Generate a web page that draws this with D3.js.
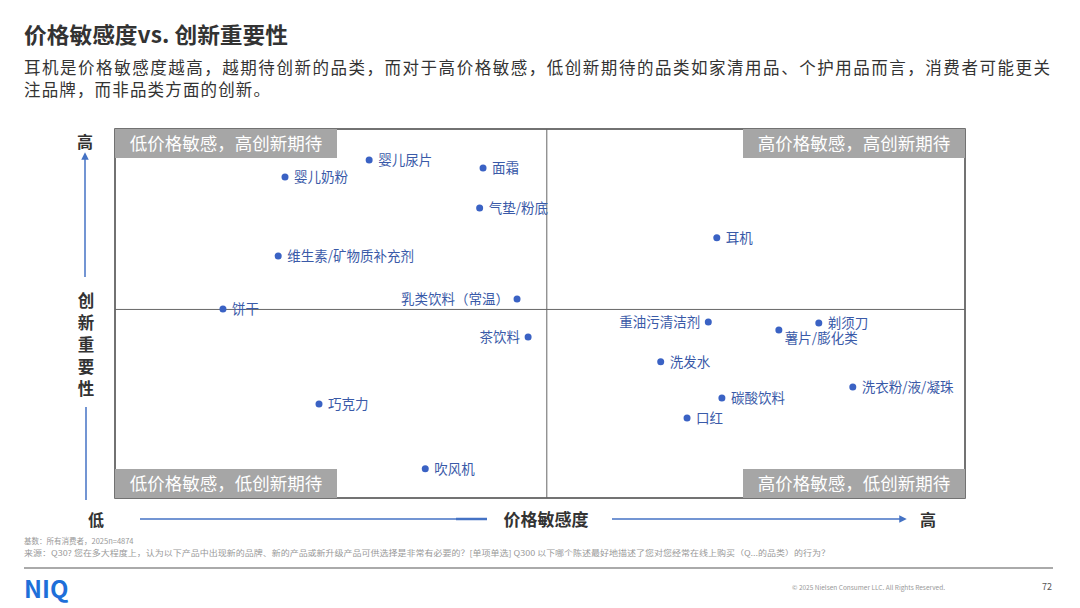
<!DOCTYPE html>
<html>
<head>
<meta charset="utf-8">
<title>价格敏感度vs. 创新重要性</title>
<script src="https://d3js.org/d3.v7.min.js"></script>
<style>
    body {
        margin: 0;
        padding: 0;
        background: #fff;
        font-family: "Noto Sans CJK SC", "Noto Sans", sans-serif;
    }
    #chart text { font-family: "Noto Sans CJK SC", "Noto Sans", sans-serif; }
</style>
</head>
<body>
<svg id="chart" width="1080" height="608"></svg>
<script>
    // categories and their positions (0-100 scale on both axes)
    const categories = ["婴儿尿片", "婴儿奶粉", "面霜", "气垫/粉底", "维生素/矿物质补充剂", "乳类饮料（常温）",
        "饼干", "茶饮料", "巧克力", "吹风机", "耳机", "重油污清洁剂", "剃须刀", "薯片/膨化类",
        "洗发水", "洗衣粉/液/凝珠", "碳酸饮料", "口红"];
    const priceSensitivity = [29.9, 20.0, 43.3, 42.9, 19.2, 47.3, 12.7, 48.6, 24.0, 36.5, 70.8, 69.8, 82.8, 78.1, 64.2, 86.8, 71.4, 67.3];
    const innovationImportance = [91.6, 87.0, 89.4, 78.6, 65.6, 53.9, 51.2, 43.6, 25.5, 7.9, 70.5, 47.7, 47.4, 45.5, 36.9, 30.1, 27.1, 21.7];
    // where the label goes relative to the dot
    const labelSide = ["r", "r", "r", "r", "r", "l", "r", "l", "r", "r", "r", "l", "r", "b", "r", "r", "r", "r"];

    const xDivider = 50.8;
    const yDivider = 51.1;
    const quadrantLabels = ["低价格敏感，高创新期待", "高价格敏感，高创新期待", "低价格敏感，低创新期待", "高价格敏感，低创新期待"];

    const svg = d3.select("#chart");
    const pLeft = 115, pRight = 965, pTop = 129, pBottom = 498;
    const x = d3.scaleLinear().domain([0, 100]).range([pLeft, pRight]);
    const y = d3.scaleLinear().domain([0, 100]).range([pBottom, pTop]);

    const blue = "#3a62c4";
    const axisBlue = "#4472c4";

    // title + subtitle
    svg.append("text").attr("x", 24).attr("y", 43).attr("font-size", 22).attr("font-weight", "bold")
        .attr("fill", "#333").attr("textLength", 264).attr("lengthAdjust", "spacingAndGlyphs")
        .text("价格敏感度vs. 创新重要性");
    svg.append("text").attr("x", 24).attr("y", 74).attr("font-size", 16.5).attr("fill", "#333")
        .attr("textLength", 1026).attr("lengthAdjust", "spacing")
        .text("耳机是价格敏感度越高，越期待创新的品类，而对于高价格敏感，低创新期待的品类如家清用品、个护用品而言，消费者可能更关");
    svg.append("text").attr("x", 24).attr("y", 96).attr("font-size", 16.5).attr("fill", "#333")
        .attr("textLength", 246).attr("lengthAdjust", "spacing")
        .text("注品牌，而非品类方面的创新。");

    // frame and dividers
    svg.append("rect").attr("x", pLeft).attr("y", pTop).attr("width", pRight - pLeft).attr("height", pBottom - pTop)
        .attr("fill", "none").attr("stroke", "#444").attr("stroke-width", 1.5);
    svg.append("line").attr("x1", x(xDivider)).attr("x2", x(xDivider)).attr("y1", pTop).attr("y2", pBottom)
        .attr("stroke", "#666").attr("stroke-width", 1);
    svg.append("line").attr("x1", pLeft).attr("x2", pRight).attr("y1", y(yDivider)).attr("y2", y(yDivider))
        .attr("stroke", "#666").attr("stroke-width", 1);

    // quadrant label boxes
    const boxW = 222, boxH = 29;
    const boxPos = [[pLeft, pTop], [pRight - boxW, pTop], [pLeft, pBottom - boxH], [pRight - boxW, pBottom - boxH]];
    quadrantLabels.forEach((t, i) => {
        const [bx, by] = boxPos[i];
        svg.append("rect").attr("x", bx).attr("y", by).attr("width", boxW).attr("height", boxH).attr("fill", "#a6a6a6");
        svg.append("text").attr("x", bx + boxW / 2).attr("y", by + 21).attr("text-anchor", "middle")
            .attr("font-size", 17.5).attr("fill", "#fff").text(t);
    });

    // points
    const pts = categories.map((c, i) => ({ name: c, x: priceSensitivity[i], y: innovationImportance[i], side: labelSide[i] }));
    const g = svg.append("g");
    g.selectAll("circle").data(pts).enter().append("circle")
        .attr("cx", d => x(d.x)).attr("cy", d => y(d.y)).attr("r", 3.5).attr("fill", blue);
    g.selectAll("text.lbl").data(pts).enter().append("text")
        .attr("class", "lbl")
        .attr("x", d => d.side == "l" ? x(d.x) - 8 : (d.side == "b" ? x(d.x) + 6 : x(d.x) + 9))
        .attr("y", d => d.side == "b" ? y(d.y) + 13 : y(d.y) + 5)
        .attr("text-anchor", d => d.side == "l" ? "end" : "start")
        .attr("font-size", 13.5).attr("fill", "#3a5aa8")
        .text(d => d.name);

    // y axis annotation
    const defs = svg.append("defs");
    defs.append("marker").attr("id", "arr").attr("viewBox", "0 0 10 10").attr("refX", 5).attr("refY", 5)
        .attr("markerWidth", 5).attr("markerHeight", 5).attr("orient", "auto")
        .append("path").attr("d", "M0,0 L10,5 L0,10 z").attr("fill", axisBlue);
    svg.append("text").attr("x", 85).attr("y", 148).attr("text-anchor", "middle").attr("font-size", 16)
        .attr("font-weight", "bold").attr("fill", "#333").text("高");
    svg.append("line").attr("x1", 85).attr("x2", 85).attr("y1", 277).attr("y2", 156)
        .attr("stroke", axisBlue).attr("stroke-width", 1.5).attr("marker-end", "url(#arr)");
    "创新重要性".split("").forEach((ch, i) => {
        svg.append("text").attr("x", 86).attr("y", 307 + i * 22).attr("text-anchor", "middle")
            .attr("font-size", 16.5).attr("font-weight", "bold").attr("fill", "#333").text(ch);
    });
    svg.append("line").attr("x1", 86).attr("x2", 86).attr("y1", 407).attr("y2", 500)
        .attr("stroke", axisBlue).attr("stroke-width", 1.5);
    svg.append("text").attr("x", 96).attr("y", 526).attr("text-anchor", "middle").attr("font-size", 16)
        .attr("font-weight", "bold").attr("fill", "#333").text("低");

    // x axis annotation
    svg.append("line").attr("x1", 140).attr("x2", 487).attr("y1", 519).attr("y2", 519)
        .attr("stroke", axisBlue).attr("stroke-width", 1.5);
    svg.append("line").attr("x1", 456).attr("x2", 487).attr("y1", 519).attr("y2", 519)
        .attr("stroke", axisBlue).attr("stroke-width", 2.5);
    svg.append("text").attr("x", 546).attr("y", 526).attr("text-anchor", "middle").attr("font-size", 17)
        .attr("font-weight", "bold").attr("fill", "#333").text("价格敏感度");
    svg.append("line").attr("x1", 612).attr("x2", 903).attr("y1", 519).attr("y2", 519)
        .attr("stroke", axisBlue).attr("stroke-width", 1.5).attr("marker-end", "url(#arr)");
    svg.append("text").attr("x", 928).attr("y", 526).attr("text-anchor", "middle").attr("font-size", 16)
        .attr("font-weight", "bold").attr("fill", "#333").text("高");

    // footer
    svg.append("text").attr("x", 24).attr("y", 544).attr("font-size", 7.5).attr("fill", "#999")
        .text("基数：所有消费者，2025n=4874");
    svg.append("text").attr("x", 24).attr("y", 556).attr("font-size", 7.5).attr("fill", "#999")
        .attr("textLength", 806).attr("lengthAdjust", "spacingAndGlyphs")
        .text("来源：Q30? 您在多大程度上，认为以下产品中出现新的品牌、新的产品或新升级产品可供选择是非常有必要的？[单项单选] Q300 以下哪个陈述最好地描述了您对您经常在线上购买（Q...的品类）的行为？");
    svg.append("line").attr("x1", 24).attr("x2", 1053).attr("y1", 568).attr("y2", 568)
        .attr("stroke", "#aaa").attr("stroke-width", 2);
    svg.append("text").attr("x", 24).attr("y", 598).attr("font-size", 24).attr("font-weight", "bold")
        .attr("font-family", "Roboto, sans-serif").attr("fill", "#1e6fd9").text("NIQ");
    svg.append("text").attr("x", 945).attr("y", 590).attr("text-anchor", "end").attr("font-size", 6.5)
        .attr("fill", "#999").text("© 2025 Nielsen Consumer LLC. All Rights Reserved.");
    svg.append("text").attr("x", 1052).attr("y", 590).attr("text-anchor", "end").attr("font-size", 9)
        .attr("fill", "#555").text("72");
</script>
</body>
</html>
